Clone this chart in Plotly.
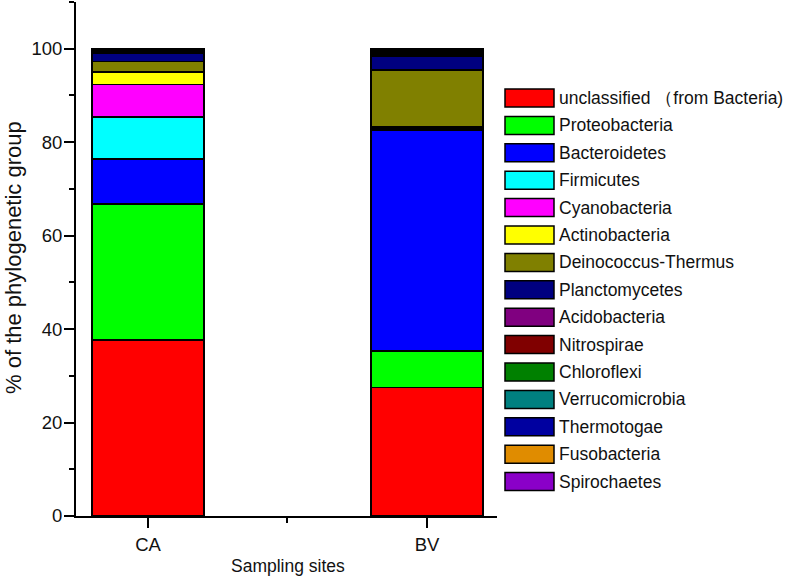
import plotly.graph_objects as go

sites = ["CA", "BV"]
phyla = ["unclassified （from Bacteria)", "Proteobacteria", "Bacteroidetes", "Firmicutes",
         "Cyanobacteria", "Actinobacteria", "Deinococcus-Thermus", "Planctomycetes",
         "Acidobacteria", "Nitrospirae", "Chloroflexi", "Verrucomicrobia",
         "Thermotogae", "Fusobacteria", "Spirochaetes"]
ca_values = [37.7, 29.1, 9.6, 9.0, 6.9, 2.7, 2.3, 1.7, 0.3, 0.2, 0.2, 0.1, 0.1, 0.05, 0.05]
bv_values = [27.5, 7.8, 47.3, 0.3, 0.3, 0.2, 12.0, 3.0, 0.3, 0.2, 0.2, 0.4, 0.3, 0.1, 0.1]
colors = ["#FF0000", "#00FF00", "#0000FF", "#00FFFF", "#FF00FF", "#FFFF00", "#808000",
          "#000080", "#800080", "#800000", "#008000", "#008080", "#0000A0", "#E08C00", "#8A00C8"]
y_ticks = [0, 20, 40, 60, 80, 100]

FONT = "Arial, Liberation Sans, sans-serif"
x_pos = list(range(len(sites)))

fig = go.Figure()
for i, name in enumerate(phyla):
    fig.add_trace(go.Bar(
        x=x_pos, y=[ca_values[i], bv_values[i]], name=name,
        marker=dict(color=colors[i], line=dict(color="black", width=1.5)),
        width=0.4, showlegend=False))

# plot area geometry (px)
L, R, T, B = 76, 290, 2, 64
W, H = 787, 580
pw, ph = W - L - R, H - T - B

def px_x(px):
    return (px - L) / pw

def px_y(py):
    return (H - B - py) / ph

shapes, annotations = [], []
for i, name in enumerate(phyla):
    cy = 98 + i * 27.4
    shapes.append(dict(type="rect", xref="paper", yref="paper",
                       x0=px_x(505), x1=px_x(554), y0=px_y(cy + 9), y1=px_y(cy - 9),
                       fillcolor=colors[i], line=dict(color="black", width=1.5)))
    annotations.append(dict(xref="paper", yref="paper", x=px_x(557), y=px_y(cy),
                            xanchor="left", yanchor="middle", showarrow=False,
                            text=name, font=dict(size=17.5, color="#111", family=FONT)))

annotations.append(dict(xref="paper", yref="paper", x=px_x(288), y=px_y(566),
                        xanchor="center", yanchor="middle", showarrow=False,
                        text="Sampling sites", font=dict(size=17.5, color="#111", family=FONT)))
annotations.append(dict(xref="paper", yref="paper", x=px_x(13), y=px_y(258),
                        xanchor="center", yanchor="middle", showarrow=False, textangle=-90,
                        text="% of the phylogenetic group", font=dict(size=22, color="#111", family=FONT)))

fig.update_layout(
    width=W, height=H, barmode="stack",
    margin=dict(l=L, r=R, t=T, b=B, autoexpand=False),
    plot_bgcolor="white", paper_bgcolor="white",
    font=dict(family=FONT, size=18, color="#111"),
    shapes=shapes, annotations=annotations,
    xaxis=dict(range=[-0.258, 1.251], tickmode="array", tickvals=x_pos, ticktext=sites,
               automargin=False,
               showline=True, linecolor="black", linewidth=2, showgrid=False, zeroline=False,
               ticks="outside", ticklen=10, tickwidth=1.5, tickcolor="black",
               ticklabelstandoff=1,
               minor=dict(tickvals=[0.5], ticks="outside", ticklen=5, tickwidth=1.5, tickcolor="black"),
               tickfont=dict(size=18.5)),
    yaxis=dict(range=[0, 110], tickmode="array", tickvals=y_ticks,
               automargin=False,
               showline=True, linecolor="black", linewidth=2, showgrid=False, zeroline=False,
               ticks="outside", ticklen=10, tickwidth=1.5, tickcolor="black",
               ticklabelstandoff=-2,
               minor=dict(dtick=10, tick0=0, ticks="outside", ticklen=5, tickwidth=1.5, tickcolor="black"),
               tickfont=dict(size=18.5)),
)

fig.write_html("out.html", config={"displayModeBar": False},
               post_script="document.body.style.margin='0';document.body.style.overflow='hidden';")
